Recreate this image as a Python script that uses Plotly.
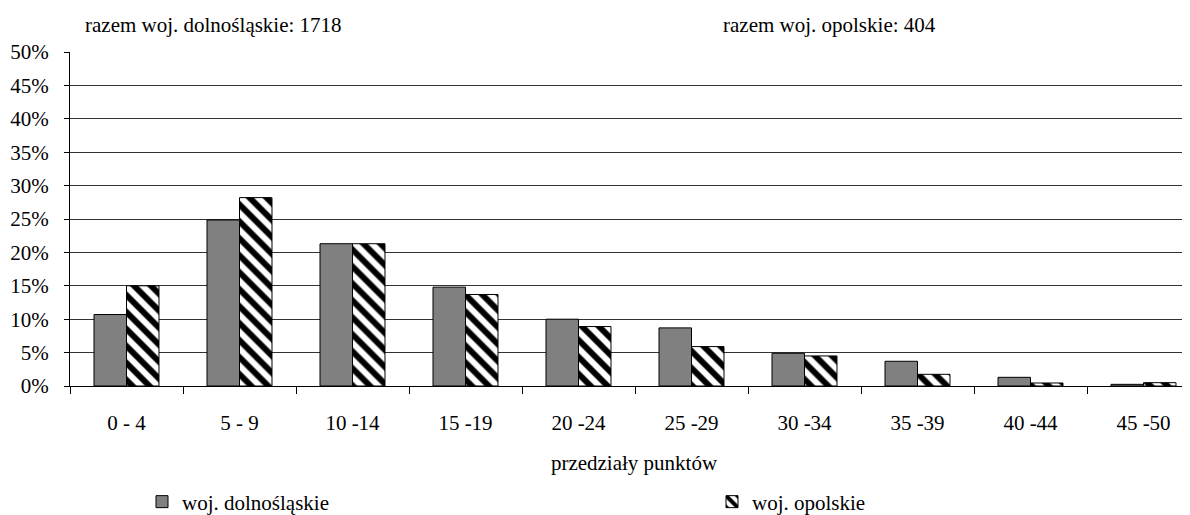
import plotly.graph_objects as go

categories = ["0 - 4", "5 - 9", "10 -14", "15 -19", "20 -24", "25 -29", "30 -34", "35 -39", "40 -44", "45 -50"]
dolnoslaskie = [10.7, 24.85, 21.3, 14.8, 10.0, 8.7, 4.9, 3.7, 1.3, 0.25]
opolskie = [15.0, 28.2, 21.3, 13.7, 8.9, 5.9, 4.5, 1.75, 0.45, 0.5]
name_d = "woj. dolnośląskie"
name_o = "woj. opolskie"
total_d_label = "razem woj. dolnośląskie: 1718"
total_o_label = "razem woj. opolskie: 404"
x_title = "przedziały punktów"

FONT = "Liberation Serif, Times New Roman, serif"
FS = 21
PLOT_H = 334
PLOT_W = 1128
CAT_W = 113

fig = go.Figure()
fig.add_trace(go.Bar(
    x=categories, y=[v / 100 for v in dolnoslaskie], name=name_d, legend="legend",
    marker=dict(color="#808080", line=dict(color="#000000", width=1)),
))
fig.add_trace(go.Bar(
    x=categories, y=[v / 100 for v in opolskie], name=name_o, legend="legend2",
    marker=dict(color="white", line=dict(color="#000000", width=1),
                pattern=dict(shape="\\", fgcolor="black", bgcolor="white",
                             size=12, solidity=0.5, fgopacity=1)),
))

legend_common = dict(orientation="h", yanchor="middle", xanchor="left",
                     y=-(502 - 386) / PLOT_H, bgcolor="rgba(0,0,0,0)",
                     font=dict(family=FONT, size=FS))

fig.update_layout(
    width=1190, height=515,
    margin=dict(l=62, r=0, t=44, b=515 - 44 - PLOT_H, autoexpand=False),
    plot_bgcolor="white", paper_bgcolor="white",
    font=dict(family=FONT, size=FS, color="#000"),
    barmode="group", bargap=0.425, bargroupgap=0,
    showlegend=True,
    legend=dict(x=(142 - 70) / PLOT_W, **legend_common),
    legend2=dict(x=(712 - 70) / PLOT_W, **legend_common),
)
fig.update_xaxes(
    range=[-0.5, -0.5 + PLOT_W / CAT_W], showline=True, linecolor="#000", linewidth=1,
    ticks="outside", tickson="boundaries", ticklen=7, tickcolor="#000",
    showgrid=False, ticklabelstandoff=18,
    title=dict(text=x_title, standoff=21, font=dict(family=FONT, size=FS)),
    tickfont=dict(family=FONT, size=FS),
)
fig.update_yaxes(
    range=[0, 0.5], tickvals=[i * 0.05 for i in range(11)], tickformat=".0%",
    showline=True, linecolor="#000", linewidth=1,
    ticks="outside", ticklen=5, tickcolor="#000",
    showgrid=True, gridcolor="#333", gridwidth=1, zeroline=False,
    ticklabelstandoff=11, tickfont=dict(family=FONT, size=FS),
)

fig.add_annotation(text=total_d_label, xref="paper", yref="paper",
                   x=(213 - 70) / PLOT_W, y=1 + 27 / PLOT_H, xanchor="center", yanchor="middle",
                   showarrow=False, font=dict(family=FONT, size=FS))
fig.add_annotation(text=total_o_label, xref="paper", yref="paper",
                   x=(829 - 70) / PLOT_W, y=1 + 27 / PLOT_H, xanchor="center", yanchor="middle",
                   showarrow=False, font=dict(family=FONT, size=FS))

fig.write_html("out.html")
